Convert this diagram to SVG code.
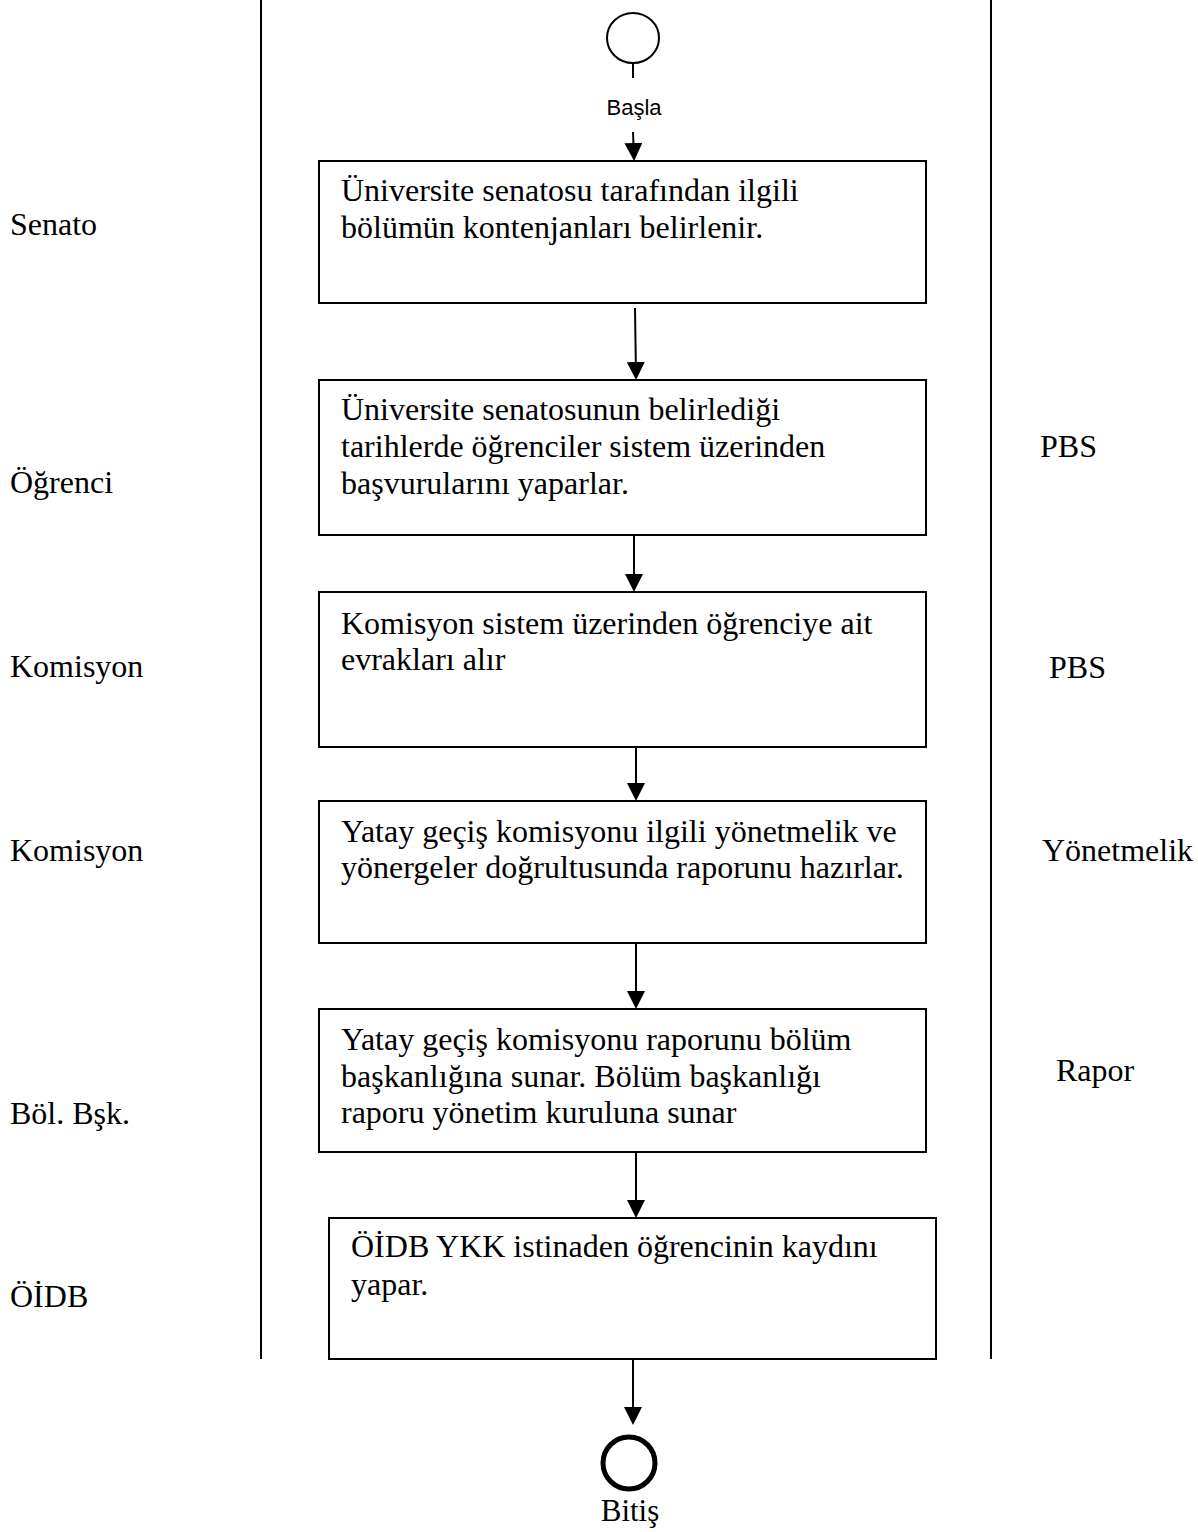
<svg xmlns="http://www.w3.org/2000/svg" width="1198" height="1532" viewBox="0 0 1198 1532">
<style>
.box{fill:#fff;stroke:#000;stroke-width:2}
.lane{stroke:#000;stroke-width:2;fill:none}
.conn{stroke:#000;stroke-width:2;fill:none}
.t{font-family:"Liberation Serif","Times New Roman",serif;font-size:32px;fill:#000}
.s{font-family:"Liberation Sans",Arial,sans-serif;font-size:22px;fill:#000}
</style>
<defs>
<marker id="arr" viewBox="0 0 18 18" refX="14" refY="9" markerWidth="18" markerHeight="18" markerUnits="userSpaceOnUse" orient="auto">
<path d="M0,0 L18,9 L0,18 z" fill="#000"/>
</marker>
</defs>
<rect width="1198" height="1532" fill="#fff"/>
<g id="lanes">
<line class="lane" x1="261" y1="0" x2="261" y2="1359"/>
<line class="lane" x1="991" y1="0" x2="991" y2="1359"/>
</g>
<g id="labels-left">
<text class="t" x="10" y="235">Senato</text>
<text class="t" x="10" y="493">Öğrenci</text>
<text class="t" x="10" y="677">Komisyon</text>
<text class="t" x="10" y="861">Komisyon</text>
<text class="t" x="10" y="1124">Böl. Bşk.</text>
<text class="t" x="10" y="1307">ÖİDB</text>
</g>
<g id="labels-right">
<text class="t" x="1040" y="457">PBS</text>
<text class="t" x="1049" y="678">PBS</text>
<text class="t" x="1042" y="861">Yönetmelik</text>
<text class="t" x="1056" y="1081">Rapor</text>
</g>
<g id="connectors">
<line class="conn" x1="633" y1="132" x2="634" y2="157" marker-end="url(#arr)"/>
<line class="conn" x1="635" y1="308" x2="636" y2="376" marker-end="url(#arr)"/>
<line class="conn" x1="634" y1="535" x2="634" y2="588" marker-end="url(#arr)"/>
<line class="conn" x1="636" y1="735" x2="636" y2="797" marker-end="url(#arr)"/>
<line class="conn" x1="636" y1="943" x2="636" y2="1005" marker-end="url(#arr)"/>
<line class="conn" x1="636" y1="1152" x2="636" y2="1214" marker-end="url(#arr)"/>
<line class="conn" x1="633" y1="1359" x2="633" y2="1421" marker-end="url(#arr)"/>
</g>
<g id="start">
<ellipse cx="633" cy="38" rx="26" ry="25" fill="#fff" stroke="#000" stroke-width="2"/>
<line x1="633" y1="63" x2="633" y2="78" stroke="#000" stroke-width="2"/>
<text class="s" x="634" y="115" text-anchor="middle">Başla</text>
</g>
<g id="n1">
<rect class="box" x="319" y="161" width="607" height="142"/>
<text class="t" x="341" y="201">Üniversite senatosu tarafından ilgili</text>
<text class="t" x="341" y="238">bölümün kontenjanları belirlenir.</text>
</g>
<g id="n2">
<rect class="box" x="319" y="380" width="607" height="155"/>
<text class="t" x="341" y="420">Üniversite senatosunun belirlediği</text>
<text class="t" x="341" y="457">tarihlerde öğrenciler sistem üzerinden</text>
<text class="t" x="341" y="494">başvurularını yaparlar.</text>
</g>
<g id="n3">
<rect class="box" x="319" y="592" width="607" height="155"/>
<text class="t" x="341" y="634">Komisyon sistem üzerinden öğrenciye ait</text>
<text class="t" x="341" y="670">evrakları alır</text>
</g>
<g id="n4">
<rect class="box" x="319" y="801" width="607" height="142"/>
<text class="t" x="341" y="842">Yatay geçiş komisyonu ilgili yönetmelik ve</text>
<text class="t" x="341" y="878">yönergeler doğrultusunda raporunu hazırlar.</text>
</g>
<g id="n5">
<rect class="box" x="319" y="1009" width="607" height="143"/>
<text class="t" x="341" y="1050">Yatay geçiş komisyonu raporunu bölüm</text>
<text class="t" x="341" y="1087">başkanlığına sunar. Bölüm başkanlığı</text>
<text class="t" x="341" y="1123">raporu yönetim kuruluna sunar</text>
</g>
<g id="n6">
<rect class="box" x="329" y="1218" width="607" height="141"/>
<text class="t" x="351" y="1257">ÖİDB YKK istinaden öğrencinin kaydını</text>
<text class="t" x="351" y="1295">yapar.</text>
</g>
<g id="end">
<circle cx="629" cy="1463" r="26" fill="#fff" stroke="#000" stroke-width="5"/>
<text class="t" x="630" y="1521" text-anchor="middle" style="font-size:31px">Bitiş</text>
</g>
</svg>
